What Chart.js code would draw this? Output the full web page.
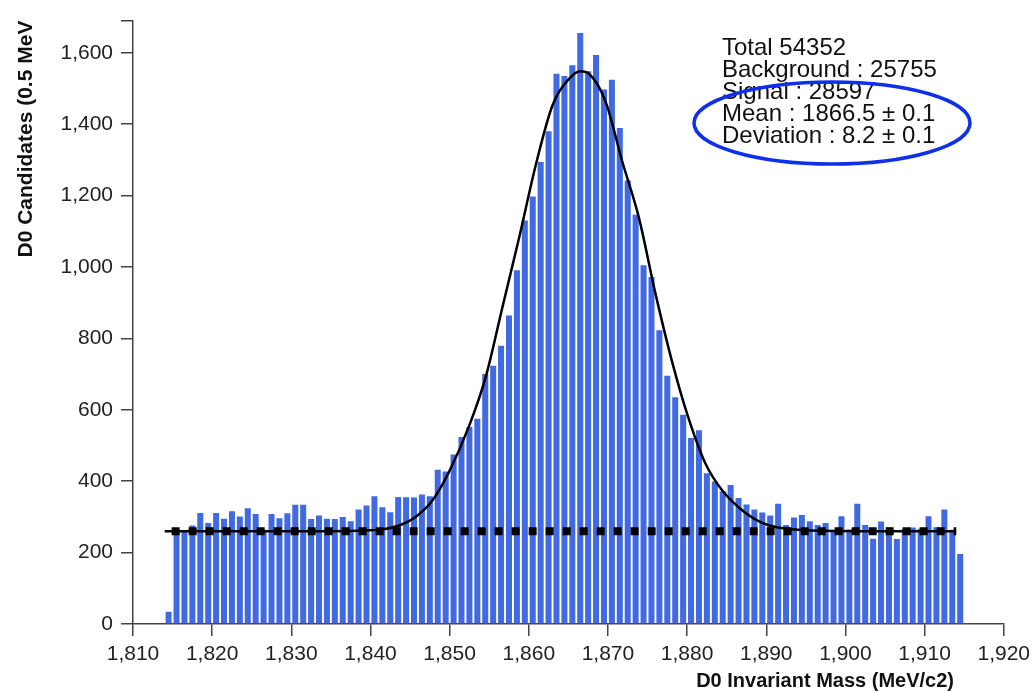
<!DOCTYPE html>
<html>
<head>
<meta charset="utf-8">
<script src="https://cdn.jsdelivr.net/npm/chart.js@4.4.1/dist/chart.umd.min.js"></script>
<style>
  html, body { margin: 0; padding: 0; background: #fff; }
  #wrap { width: 1036px; height: 692px; }
</style>
</head>
<body>
<div id="wrap"><canvas id="myChart" width="1036" height="692"></canvas></div>
<script>
// bin centres (MeV/c2)
const binCenters = [
  1814.5, 1815.5, 1816.5, 1817.5, 1818.5, 1819.5, 1820.5, 1821.5, 1822.5, 1823.5,
  1824.5, 1825.5, 1826.5, 1827.5, 1828.5, 1829.5, 1830.5, 1831.5, 1832.5, 1833.5,
  1834.5, 1835.5, 1836.5, 1837.5, 1838.5, 1839.5, 1840.5, 1841.5, 1842.5, 1843.5,
  1844.5, 1845.5, 1846.5, 1847.5, 1848.5, 1849.5, 1850.5, 1851.5, 1852.5, 1853.5,
  1854.5, 1855.5, 1856.5, 1857.5, 1858.5, 1859.5, 1860.5, 1861.5, 1862.5, 1863.5,
  1864.5, 1865.5, 1866.5, 1867.5, 1868.5, 1869.5, 1870.5, 1871.5, 1872.5, 1873.5,
  1874.5, 1875.5, 1876.5, 1877.5, 1878.5, 1879.5, 1880.5, 1881.5, 1882.5, 1883.5,
  1884.5, 1885.5, 1886.5, 1887.5, 1888.5, 1889.5, 1890.5, 1891.5, 1892.5, 1893.5,
  1894.5, 1895.5, 1896.5, 1897.5, 1898.5, 1899.5, 1900.5, 1901.5, 1902.5, 1903.5,
  1904.5, 1905.5, 1906.5, 1907.5, 1908.5, 1909.5, 1910.5, 1911.5, 1912.5, 1913.5,
  1914.5
];

// D0 candidates per bin
const counts = [
  34, 265, 262, 276, 311, 283, 311, 295, 316, 301,
  324, 308, 264, 308, 296, 310, 334, 334, 294, 304,
  295, 294, 300, 288, 321, 332, 358, 327, 313, 356,
  355, 354, 363, 358, 432, 427, 475, 524, 552, 575,
  700, 723, 779, 864, 991, 1130, 1197, 1294, 1380, 1541,
  1535, 1565, 1655, 1548, 1594, 1497, 1524, 1389, 1242, 1146,
  1005, 972, 823, 695, 635, 586, 521, 543, 422, 399,
  372, 389, 353, 335, 321, 312, 304, 337, 277, 298,
  305, 288, 277, 283, 264, 302, 265, 337, 277, 239,
  287, 270, 238, 267, 270, 267, 302, 271, 321, 264,
  196
];

// fit curve
const fitX = [1814, 1825, 1835, 1839.5, 1841.5, 1843.6, 1845.7, 1847.8, 1849.9, 1852.5,
  1854.6, 1856.7, 1858.8, 1860.9, 1863.0, 1865.1, 1866.5, 1867.6, 1869.7, 1871.8,
  1873.9, 1876.0, 1878.1, 1880.2, 1882.3, 1884.4, 1887.3, 1889.4, 1891.5, 1895.7,
  1905, 1914];
const fitY = [260, 260, 260, 262, 265, 276, 300, 345, 425, 557,
  695, 890, 1084, 1287, 1453, 1527, 1548, 1541, 1463, 1296,
  1139, 926, 735, 575, 450, 375, 312, 284, 270, 262,
  260, 260];

// flat background level
const bgX = [1814, 1914];
const bgY = [260, 260];

const xTicks = [1810, 1920];
const yMax = 1690;

const yTitle = 'D0 Candidates (0.5 MeV';
const xTitle = 'D0 Invariant Mass (MeV/c2)';
const statLines = [
  'Total 54352',
  'Background : 25755',
  'Signal : 28597',
  'Mean : 1866.5 ± 0.1',
  'Deviation : 8.2 ± 0.1'
];

const FONT = '"Liberation Sans", Arial, Helvetica, sans-serif';
const AXIS = '#444';

const overlay = {
  id: 'overlay',
  afterDraw(chart) {
    const ctx = chart.ctx;
    ctx.save();
    // x axis title
    ctx.font = 'bold 20px ' + FONT;
    ctx.fillStyle = '#111';
    ctx.textAlign = 'right';
    ctx.textBaseline = 'middle';
    ctx.fillText(xTitle, 954, 681);
    // fit summary
    ctx.font = '24px ' + FONT;
    ctx.textAlign = 'left';
    ctx.textBaseline = 'alphabetic';
    statLines.forEach((t, i) => ctx.fillText(t, 722, 55 + i * 22));
    // highlight ring
    ctx.strokeStyle = '#0f30ea';
    ctx.lineWidth = 3.5;
    ctx.beginPath();
    ctx.ellipse(832, 123, 138, 41, 0, 0, Math.PI * 2);
    ctx.stroke();
    ctx.restore();
  }
};

const ctx = document.getElementById('myChart').getContext('2d');
const myChart = new Chart(ctx, {
  type: 'bar',
  data: {
    datasets: [
      {
        type: 'line',
        data: bgX.map((x, i) => ({ x: x, y: bgY[i] })),
        borderColor: '#000',
        borderWidth: 8,
        borderDash: [8, 9],
        borderDashOffset: 10,
        borderCapStyle: 'butt',
        pointRadius: 0,
        fill: false,
        order: 0
      },
      {
        type: 'line',
        data: fitX.map((x, i) => ({ x: x, y: fitY[i] })),
        borderColor: '#000',
        borderWidth: 2.5,
        pointRadius: 0,
        cubicInterpolationMode: 'monotone',
        fill: false,
        order: 1
      },
      {
        type: 'bar',
        data: binCenters.map((x, i) => ({ x: x, y: counts[i] })),
        backgroundColor: '#4169e1',
        borderWidth: 0,
        barPercentage: 0.76,
        categoryPercentage: 1,
        order: 2
      }
    ]
  },
  options: {
    responsive: false,
    animation: false,
    layout: { padding: { top: 14, right: 30, left: 0, bottom: 0 } },
    plugins: { legend: { display: false }, tooltip: { enabled: false } },
    scales: {
      x: {
        type: 'linear',
        min: xTicks[0],
        max: xTicks[1],
        offset: false,
        grid: { offset: false, drawOnChartArea: false, drawTicks: true, tickLength: 12, color: AXIS, lineWidth: 1.5 },
        border: { display: true, color: AXIS, width: 1.5 },
        ticks: {
          stepSize: 10, autoSkip: false, maxRotation: 0, padding: 6,
          color: '#222', font: { family: FONT, size: 21 },
          callback: v => v.toLocaleString('en-US')
        },
        afterFit: s => { s.height = 68; }
      },
      y: {
        min: 0,
        max: yMax,
        grid: { drawOnChartArea: false, drawTicks: true, tickLength: 12, color: AXIS, lineWidth: 1.5 },
        border: { display: true, color: AXIS, width: 1.5 },
        ticks: {
          stepSize: 200, padding: 8,
          color: '#222', font: { family: FONT, size: 21 },
          callback: v => (v % 200 === 0 ? v.toLocaleString('en-US') : '')
        },
        title: {
          display: true, text: yTitle, align: 'end', color: '#111',
          font: { family: FONT, size: 21, weight: 'bold' },
          padding: { top: 14, bottom: 0 }
        },
        afterFit: s => { s.width = 133; }
      }
    }
  },
  plugins: [overlay]
});
</script>
</body>
</html>
